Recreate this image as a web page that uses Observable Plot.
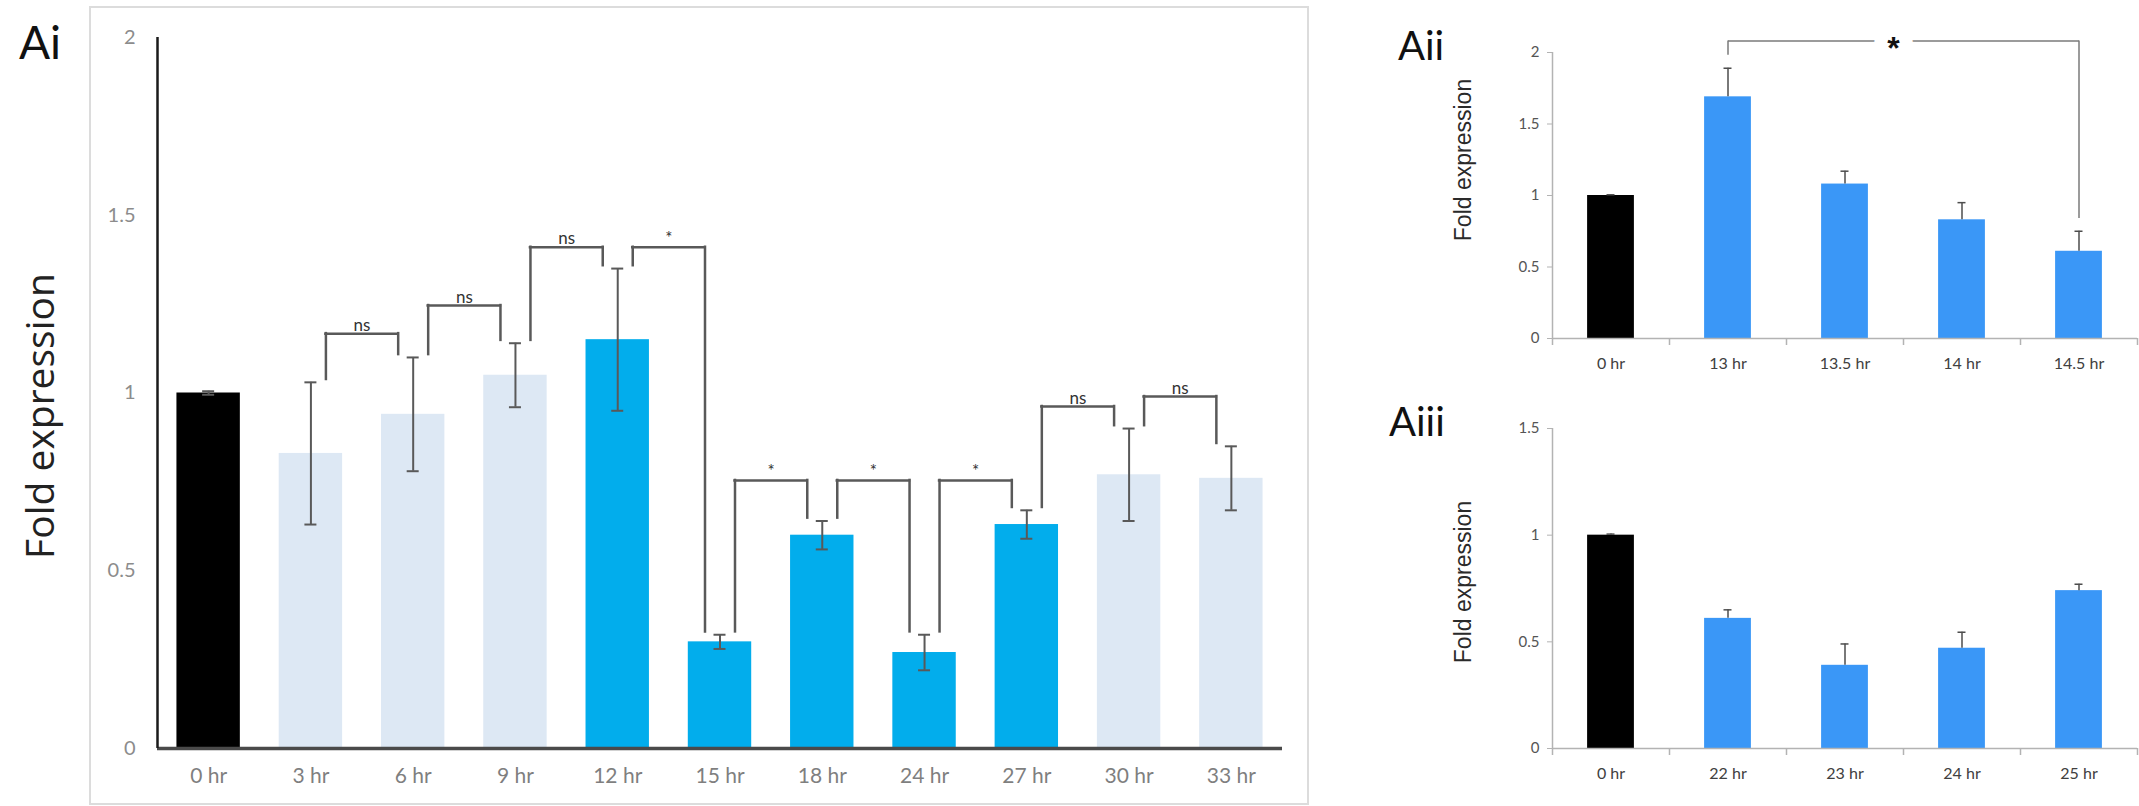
<!DOCTYPE html>
<html>
<head>
<meta charset="utf-8">
<script src="https://cdn.jsdelivr.net/npm/d3@7"></script>
<script src="https://cdn.jsdelivr.net/npm/@observablehq/plot@0.6"></script>
<style>
  html, body { margin: 0; padding: 0; background: #fff; }
  body { position: relative; width: 2139px; height: 806px; overflow: hidden; font-family: Lato, sans-serif; }
  .abs { position: absolute; }
  #boxAi { left: 89px; top: 6px; width: 1220px; height: 799px; border: 2px solid #dcdcdc; box-sizing: border-box; }
  #chartAi { left: 90px; top: 7px; }
  #chartAii { left: 1480px; top: 0px; }
  #chartAiii { left: 1480px; top: 400px; }
  .panel { font-family: Lato, sans-serif; font-size: 46px; line-height: 1; color: #111; white-space: nowrap; }
  .ylab { white-space: nowrap; line-height: 1; transform: translate(-50%, -50%) rotate(-90deg); }
  #ylabAi { left: 38px; top: 416px; font-family: "Open Sans", sans-serif; font-size: 39px; color: #222; }
  #ylabAii { left: 1463px; top: 160px; font-family: "Liberation Sans", Arial, sans-serif; font-size: 23px; color: #2a2a2a; }
  #ylabAiii { left: 1463px; top: 582px; font-family: "Liberation Sans", Arial, sans-serif; font-size: 23px; color: #2a2a2a; }
</style>
</head>
<body>
<div class="abs" id="boxAi"></div>
<div class="abs" id="chartAi"></div>
<div class="abs" id="chartAii"></div>
<div class="abs" id="chartAiii"></div>
<div class="abs panel" style="left:19px;top:19px;font-size:46px;">Ai</div>
<div class="abs panel" style="left:1398px;top:25px;font-size:40px;">Aii</div>
<div class="abs panel" style="left:1389px;top:401px;font-size:40px;">Aiii</div>
<div class="abs ylab" id="ylabAi">Fold expression</div>
<div class="abs ylab" id="ylabAii">Fold expression</div>
<div class="abs ylab" id="ylabAiii">Fold expression</div>
<script>
// ---------- Data ----------
const aiCats   = ["0 hr", "3 hr", "6 hr", "9 hr", "12 hr", "15 hr", "18 hr", "24 hr", "27 hr", "30 hr", "33 hr"];
const aiValues = [1.00, 0.83, 0.94, 1.05, 1.15, 0.30, 0.60, 0.27, 0.63, 0.77, 0.76];
const aiErrors = [0.005, 0.20, 0.16, 0.09, 0.20, 0.02, 0.04, 0.05, 0.04, 0.13, 0.09];
const aiGroups = ["control", "light", "light", "light", "bright", "bright", "bright", "bright", "bright", "light", "light"];
const aiYTicks = [0, 0.5, 1, 1.5, 2];

const aiBracketFrom   = ["3 hr", "6 hr", "9 hr", "12 hr", "15 hr", "18 hr", "24 hr", "27 hr", "30 hr"];
const aiBracketTo     = ["6 hr", "9 hr", "12 hr", "15 hr", "18 hr", "24 hr", "27 hr", "30 hr", "33 hr"];
const aiBracketHeight = [1.167, 1.246, 1.41, 1.41, 0.754, 0.754, 0.754, 0.962, 0.99];
const aiBracketLabel  = ["ns", "ns", "ns", "*", "*", "*", "*", "ns", "ns"];

const aiiCats   = ["0 hr", "13 hr", "13.5 hr", "14 hr", "14.5 hr"];
const aiiValues = [1.00, 1.69, 1.08, 0.83, 0.61];
const aiiErrors = [0.005, 0.20, 0.09, 0.12, 0.14];
const aiiGroups = ["control", "treated", "treated", "treated", "treated"];
const aiiYTicks = [0, 0.5, 1, 1.5, 2];
const aiiBracketFrom = ["13 hr"];
const aiiBracketTo = ["14.5 hr"];
const aiiBracketHeight = [2.08];
const aiiBracketLabel = ["*"];

const aiiiCats   = ["0 hr", "22 hr", "23 hr", "24 hr", "25 hr"];
const aiiiValues = [1.00, 0.61, 0.39, 0.47, 0.74];
const aiiiErrors = [0.005, 0.04, 0.10, 0.075, 0.03];
const aiiiGroups = ["control", "treated", "treated", "treated", "treated"];
const aiiiYTicks = [0, 0.5, 1, 1.5];

// ---------- helpers ----------
function rows(cats, values, errs, groups) {
  return cats.map((c, i) => ({cat: c, value: values[i], err: errs[i], group: groups[i]}));
}
function brackets(from, to, heights, labels, data, gap) {
  const top = c => { const d = data.find(r => r.cat === c); return d.value + d.err + gap; };
  return from.map((f, i) => ({from: f, to: to[i], height: heights[i], label: labels[i], leftBase: top(f), rightBase: top(to[i])}));
}

// ---------- Panel Ai ----------
{
  const W = 1218, H = 797, mL = 67, mR = 26, mT = 30, mB = 56;
  const pi = 0.38;
  const step = (W - mL - mR) / aiCats.length;
  const bw = step * (1 - pi);
  const legOff = 15;
  const data = rows(aiCats, aiValues, aiErrors, aiGroups);
  const br = brackets(aiBracketFrom, aiBracketTo, aiBracketHeight, aiBracketLabel, data, 0.008);
  const ink = "#595959";
  const chart = Plot.plot({
    width: W, height: H, marginLeft: mL, marginRight: mR, marginTop: mT, marginBottom: mB,
    style: {background: "transparent", fontFamily: "Lato, sans-serif", fontSize: "20px"},
    x: {domain: aiCats, paddingInner: pi, paddingOuter: pi / 2, round: false, label: null},
    y: {domain: [0, 2], label: null},
    color: {domain: ["control", "light", "bright"], range: ["#000000", "#dde8f4", "#02adec"]},
    marks: [
      Plot.barY(data, {x: "cat", y: "value", fill: "group"}),
      Plot.ruleX(data, {x: "cat", y1: d => d.value - d.err, y2: d => d.value + d.err, stroke: ink, strokeWidth: 2}),
      Plot.tickY(data, {x: "cat", y: d => d.value + d.err, stroke: ink, strokeWidth: 2, inset: (bw - 12) / 2}),
      Plot.tickY(data, {x: "cat", y: d => d.value - d.err, stroke: ink, strokeWidth: 2, inset: (bw - 12) / 2}),
      Plot.ruleY([0], {stroke: "#4a4a4a", strokeWidth: 3.5}),
      Plot.ruleX([aiCats[0]], {x: d => d, y1: 0, y2: 2, dx: -step / 2, stroke: "#1a1a1a", strokeWidth: 2.5}),
      Plot.axisY({ticks: aiYTicks, tickFormat: d => String(d), tickSize: 0, tickPadding: 22, fontSize: 20, fill: "#8c8c8c", label: null}),
      Plot.axisX({tickSize: 0, tickPadding: 20, fontSize: 21, fill: "#7f7f7f", label: null}),
      Plot.ruleX(br, {x: "from", y1: "leftBase", y2: "height", dx: legOff, stroke: ink, strokeWidth: 2.5, strokeLinecap: "square"}),
      Plot.ruleX(br, {x: "to", y1: "rightBase", y2: "height", dx: -legOff, stroke: ink, strokeWidth: 2.5, strokeLinecap: "square"}),
      Plot.ruleY(br, {x1: "from", x2: "to", y: "height", insetLeft: bw / 2 + legOff, insetRight: bw / 2 + legOff, stroke: ink, strokeWidth: 2.5, strokeLinecap: "square"}),
      Plot.text(br, {x: "from", y: "height", text: "label", dx: step / 2, dy: -3, lineAnchor: "bottom", fontSize: 17, fontWeight: d => d.label === "*" ? "bold" : "normal", fill: "#333", fontFamily: "Lato, sans-serif"})
    ]
  });
  document.getElementById("chartAi").appendChild(chart);
}

// ---------- small panels ----------
function smallPanel(el, cats, values, errs, groups, yMax, yTicks, mT, mB, H, bracketRows) {
  const W = 659, mL = 72, mR = 2;
  const pi = 0.6;
  const step = (W - mL - mR) / cats.length;
  const bw = step * (1 - pi);
  const data = rows(cats, values, errs, groups);
  const axisGray = "#b3b3b3";
  const ink = "#4d4d4d";
  const marks = [
    Plot.barY(data, {x: "cat", y: "value", fill: "group"}),
    Plot.ruleX(data, {x: "cat", y1: "value", y2: d => d.value + d.err, stroke: ink, strokeWidth: 1.5}),
    Plot.tickY(data, {x: "cat", y: d => d.value + d.err, stroke: ink, strokeWidth: 1.5, inset: (bw - 8) / 2}),
    Plot.ruleY([0], {stroke: axisGray, strokeWidth: 1.5}),
    Plot.ruleX([cats[0]], {x: d => d, y1: 0, y2: yMax, dx: -step / 2, stroke: axisGray, strokeWidth: 1.5}),
    Plot.ruleX(cats, {x: d => d, y1: 0, y2: 0, insetBottom: -7, dx: -step / 2, stroke: axisGray, strokeWidth: 1.5}),
    Plot.ruleX([cats[cats.length - 1]], {x: d => d, y1: 0, y2: 0, insetBottom: -7, dx: step / 2, stroke: axisGray, strokeWidth: 1.5}),
    Plot.axisY({ticks: yTicks, tickFormat: d => String(d), tickSize: 5, tickPadding: 8, fontSize: 15, stroke: axisGray, fill: "#555", label: null}),
    Plot.axisX({tickSize: 0, tickPadding: 19, fontSize: 16, fill: "#404040", label: null})
  ];
  if (bracketRows) {
    const lineGray = "#7a7a7a";
    marks.push(
      Plot.ruleX(bracketRows, {x: "from", y1: "leftBase", y2: "height", stroke: lineGray, strokeWidth: 1.5}),
      Plot.ruleX(bracketRows, {x: "to", y1: "rightBase", y2: "height", stroke: lineGray, strokeWidth: 1.5}),
      Plot.link(bracketRows, {x1: "from", x2: "to", y1: "height", y2: "height", stroke: lineGray, strokeWidth: 1.5}),
      Plot.text(bracketRows, {x: "from", y: "height", text: "label", dx: step * 1.5 - 10, dy: 8, lineAnchor: "middle", fontSize: 32, fontWeight: "bold", fill: "#111", stroke: "white", strokeWidth: 26, paintOrder: "stroke", fontFamily: "Liberation Sans, Arial, sans-serif"})
    );
  }
  const chart = Plot.plot({
    width: W, height: H, marginLeft: mL, marginRight: mR, marginTop: mT, marginBottom: mB,
    style: {background: "transparent", fontFamily: "Lato, sans-serif", fontSize: "16px"},
    x: {domain: cats, paddingInner: pi, paddingOuter: pi / 2, round: false, label: null},
    y: {domain: [0, yMax], label: null},
    color: {domain: ["control", "treated"], range: ["#000000", "#3a97f7"]},
    marks
  });
  document.getElementById(el).appendChild(chart);
}

{
  const data = rows(aiiCats, aiiValues, aiiErrors, aiiGroups);
  const br = brackets(aiiBracketFrom, aiiBracketTo, aiiBracketHeight, aiiBracketLabel, data, 0.09);
  smallPanel("chartAii", aiiCats, aiiValues, aiiErrors, aiiGroups, 2, aiiYTicks, 52, 47, 385, br);
}
smallPanel("chartAiii", aiiiCats, aiiiValues, aiiiErrors, aiiiGroups, 1.5, aiiiYTicks, 28, 52, 400, null);
</script>
</body>
</html>
